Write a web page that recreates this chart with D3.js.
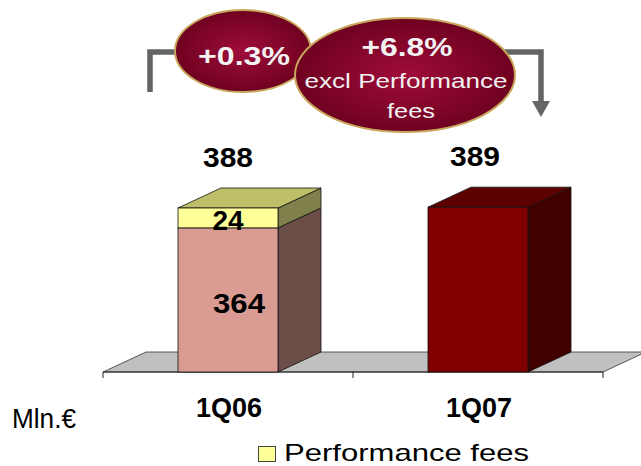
<!DOCTYPE html>
<html>
<head>
<meta charset="utf-8">
<script src="https://cdn.jsdelivr.net/npm/d3@7"></script>
<style>
  html, body { margin: 0; padding: 0; background: #ffffff; }
  svg { display: block; font-family: "Liberation Sans", Arial, sans-serif; }
</style>
</head>
<body>
<svg id="chart" width="641" height="466"></svg>
<script>
// Quarterly revenues, Mln.€
const categories = ["1Q06", "1Q07"];
const coreValues = [364, 389];        // revenues excluding performance fees (1Q07 not split)
const perfFeeValues = [24, 0];        // performance fees
const totals = [388, 389];
const segmentLabels = [["364", "24"], [null, null]];
const growthTotal = "+0.3%";
const growthExclFees = ["+6.8%", "excl Performance", "fees"];
const legendLabel = "Performance fees";
const unitLabel = "Mln.€";

const svg = d3.select("#chart");

// plot frame
const floorY = 372, axisLeft = 103, axisRight = 603;
const depthX = 43, depthY = -20;

const x = d3.scaleBand().domain(categories).range([axisLeft, axisRight]).padding(0);
const y = d3.scaleLinear().domain([190, 388]).range([floorY, 208]);
const barW = x.bandwidth() * 0.4;

// palettes: [front, top, side]
const coreColors = [
  ["#DA9C92", "#B07A70", "#6B4E47"],
  ["#800000", "#5C0000", "#400000"]
];
const feeColors = ["#FFFF99", "#BFBF6A", "#80804C"];

const defs = svg.append("defs");
const grad = defs.append("radialGradient").attr("id", "bubble")
  .attr("cx", "50%").attr("cy", "50%").attr("r", "55%");
grad.append("stop").attr("offset", "0%").attr("stop-color", "#A00C3A");
grad.append("stop").attr("offset", "100%").attr("stop-color", "#6A001E");

// floor
const fl = [[axisLeft, floorY], [axisRight, floorY],
            [axisRight + depthX, floorY + depthY], [axisLeft + depthX, floorY + depthY]];
svg.append("polygon")
  .attr("points", fl.map(p => p.join(",")).join(" "))
  .attr("fill", "#C0C0C0").attr("stroke", "#333").attr("stroke-width", 0.8);

// category axis
const axisG = svg.append("g").attr("transform", `translate(0,${floorY})`);
axisG.append("line").attr("x1", axisLeft).attr("x2", axisRight)
  .attr("stroke", "#222").attr("stroke-width", 1);
const tickXs = [axisLeft].concat(categories.map(c => x(c) + x.bandwidth()));
axisG.selectAll("line.tick").data(tickXs).join("line").attr("class", "tick")
  .attr("x1", d => d).attr("x2", d => d).attr("y1", 0).attr("y2", 6)
  .attr("stroke", "#222").attr("stroke-width", 1);

// 3D box segment
function box(g, x0, x1, yTop, yBot, cols) {
  const side = [[x1, yBot], [x1 + depthX, yBot + depthY], [x1 + depthX, yTop + depthY], [x1, yTop]];
  const top = [[x0, yTop], [x1, yTop], [x1 + depthX, yTop + depthY], [x0 + depthX, yTop + depthY]];
  g.append("polygon").attr("points", side.map(p => p.join(",")).join(" "))
    .attr("fill", cols[2]).attr("stroke", "#111").attr("stroke-width", 0.8).attr("stroke-linejoin", "round");
  g.append("polygon").attr("points", top.map(p => p.join(",")).join(" "))
    .attr("fill", cols[1]).attr("stroke", "#111").attr("stroke-width", 0.8).attr("stroke-linejoin", "round");
  g.append("rect").attr("x", x0).attr("y", yTop).attr("width", x1 - x0).attr("height", yBot - yTop)
    .attr("fill", cols[0]).attr("stroke", "#111").attr("stroke-width", 0.8);
}

const bars = svg.append("g");
categories.forEach((c, i) => {
  const cx = x(c) + x.bandwidth() / 2;
  const x0 = cx - barW / 2, x1 = cx + barW / 2;
  const g = bars.append("g");
  const coreTop = perfFeeValues[i] > 0 ? y(coreValues[i]) : y(totals[i]);
  box(g, x0, x1, coreTop, floorY, coreColors[i]);
  if (perfFeeValues[i] > 0) {
    box(g, x0, x1, y(coreValues[i] + perfFeeValues[i]), y(coreValues[i]), feeColors);
  }
  // segment labels
  if (segmentLabels[i][0]) {
    g.append("text").attr("x", cx + 11).attr("y", (coreTop + floorY) / 2 + 13)
      .attr("text-anchor", "middle").attr("font-weight", "bold").attr("font-size", 28)
      .attr("textLength", 52).attr("lengthAdjust", "spacingAndGlyphs")
      .attr("fill", "#000").text(segmentLabels[i][0]);
  }
  if (segmentLabels[i][1]) {
    g.append("text").attr("x", cx).attr("y", y(coreValues[i]) + 2)
      .attr("text-anchor", "middle").attr("font-weight", "bold").attr("font-size", 28)
      .attr("fill", "#000").text(segmentLabels[i][1]);
  }
  // total label
  svg.append("text").attr("x", cx - (i === 0 ? 0 : 3)).attr("y", y(totals[i]) - 41)
    .attr("text-anchor", "middle").attr("font-weight", "bold").attr("font-size", 28)
    .attr("textLength", 50).attr("lengthAdjust", "spacingAndGlyphs")
    .attr("fill", "#000").text(totals[i]);
  // category label
  svg.append("text").attr("x", cx + 1).attr("y", floorY + 45)
    .attr("text-anchor", "middle").attr("font-weight", "bold").attr("font-size", 27)
    .attr("fill", "#000").text(c);
});

// unit label
svg.append("text").attr("x", 12).attr("y", 428).attr("font-size", 27)
  .attr("textLength", 64).attr("lengthAdjust", "spacingAndGlyphs")
  .attr("fill", "#000").text(unitLabel);

// legend
const lg = svg.append("g");
lg.append("rect").attr("x", 258.5).attr("y", 446.5).attr("width", 17).attr("height", 15)
  .attr("fill", "#FFFF99").attr("stroke", "#444").attr("stroke-width", 1);
lg.append("text").attr("x", 284).attr("y", 461).attr("font-size", 24)
  .attr("textLength", 245).attr("lengthAdjust", "spacingAndGlyphs")
  .attr("fill", "#000").text(legendLabel);

// growth bracket
const grey = "#646464";
svg.append("path").attr("d", "M150,92 V52 H190").attr("fill", "none")
  .attr("stroke", grey).attr("stroke-width", 5.5);
svg.append("path").attr("d", "M490,52 H541 V102").attr("fill", "none")
  .attr("stroke", grey).attr("stroke-width", 5.5);
svg.append("polygon").attr("points", "532,101 550,101 541,117").attr("fill", grey);

// growth bubbles
const b1 = svg.append("g");
b1.append("ellipse").attr("cx", 243).attr("cy", 51).attr("rx", 68).attr("ry", 41)
  .attr("fill", "url(#bubble)").attr("stroke", "#C8A65C").attr("stroke-width", 2);
b1.append("text").attr("x", 244).attr("y", 65).attr("text-anchor", "middle")
  .attr("font-weight", "bold").attr("font-size", 26).attr("fill", "#F2F2F2")
  .attr("textLength", 92).attr("lengthAdjust", "spacingAndGlyphs").text(growthTotal);

const b2 = svg.append("g");
b2.append("ellipse").attr("cx", 405).attr("cy", 75).attr("rx", 110).attr("ry", 57)
  .attr("fill", "url(#bubble)").attr("stroke", "#C8A65C").attr("stroke-width", 2);
const lines2 = [
  { t: growthExclFees[0], y: 56, size: 26, bold: true, w: 91, cx: 407 },
  { t: growthExclFees[1], y: 88, size: 21, bold: false, w: 203, cx: 406 },
  { t: growthExclFees[2], y: 118, size: 21, bold: false, w: 48, cx: 411 }
];
lines2.forEach(l => {
  b2.append("text").attr("x", l.cx).attr("y", l.y).attr("text-anchor", "middle")
    .attr("font-weight", l.bold ? "bold" : "normal").attr("font-size", l.size)
    .attr("fill", "#F2F2F2").attr("textLength", l.w).attr("lengthAdjust", "spacingAndGlyphs")
    .text(l.t);
});
</script>
</body>
</html>
